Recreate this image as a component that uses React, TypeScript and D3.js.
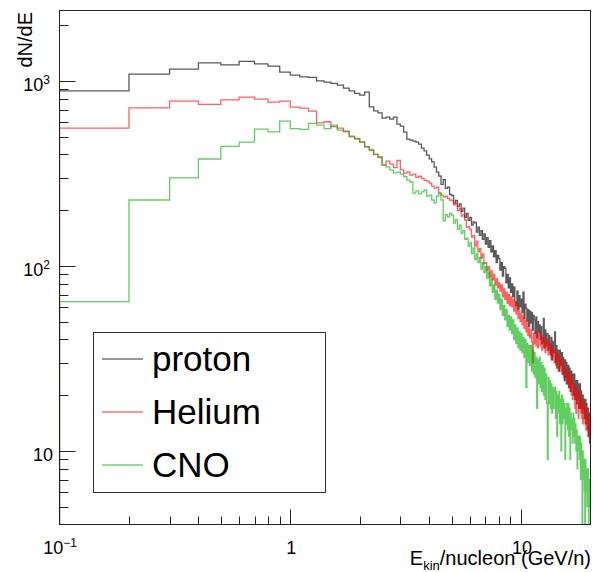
import { useRef, useEffect } from 'react'
import * as d3 from 'd3'

// bins: width 0.1 GeV/n, first visible bin starts at 0.1
const binStart = 0.1
const binWidth = 0.1

const proton = [
  883, 1087, 1157, 1251, 1220, 1273, 1235, 1200, 1114,
  1073, 1051, 1043, 1000, 984, 968, 948, 913, 883, 855,
  837, 869, 724, 689, 672, 629, 637, 621, 637, 584,
  569, 528, 484, 478, 472, 466, 455, 433, 418, 397,
  379, 365, 342, 321, 306, 276, 292, 262, 266, 243,
  240, 219, 226, 209, 216, 197, 205, 183, 192, 176,
  183, 166, 173, 171, 152, 162, 146, 155, 139, 149,
  131, 142, 126, 137, 119, 128, 112, 121, 104, 114,
  109, 95, 104, 88, 99, 97, 81, 90, 76, 86,
  72, 80, 68, 77, 64, 61, 73, 58, 69, 60,
  66, 56, 72, 52, 62, 59, 50, 58, 47, 57,
  49, 56, 45, 54, 51, 43, 53, 41, 50, 44,
  48, 40, 47, 38, 39, 52, 36, 45, 37, 43,
  43, 35, 42, 38, 33, 41, 31, 39, 34, 37,
  44, 30, 37, 28, 35, 33, 27, 35, 29, 33,
  34, 26, 32, 29, 24, 31, 25, 30, 23, 29,
  29, 22, 28, 25, 21, 27, 23, 26, 20, 25,
  26, 19, 24, 22, 18, 24, 19, 23, 17, 22,
  23, 17, 21, 19, 16, 20, 17, 19, 15, 18,
  19, 14, 18, 16, 13, 17, 12, 16, 11, 14,
]

const helium = [
  555, 715, 777, 746, 790, 816, 796, 767, 777,
  721, 712, 686, 592, 601, 565, 555, 535, 503, 485,
  467, 440, 420, 400, 385, 350, 368, 355, 340, 371,
  330, 317, 322, 309, 313, 301, 305, 297, 290, 287,
  280, 270, 263, 266, 247, 241, 235, 238, 232, 227,
  226, 214, 218, 199, 204, 186, 190, 177, 161, 163,
  157, 143, 146, 128, 136, 119, 124, 110, 116, 103,
  104, 94, 99, 87, 94, 84, 90, 79, 85, 76,
  81, 73, 79, 68, 75, 66, 72, 63, 70, 61,
  68, 60, 66, 57, 63, 55, 61, 52, 57, 50,
  55, 48, 53, 46, 51, 44, 49, 42, 46, 41,
  45, 39, 30, 43, 38, 44, 37, 42, 36, 43,
  44, 37, 42, 35, 41, 36, 40, 34, 39, 35,
  40, 33, 39, 34, 37, 31, 36, 32, 35, 30,
  35, 29, 34, 30, 33, 27, 32, 28, 31, 27,
  31, 26, 30, 25, 28, 24, 28, 23, 27, 23,
  27, 22, 26, 21, 25, 20, 24, 19, 23, 20,
  23, 17, 22, 16, 21, 18, 20, 15, 21, 17,
  20, 16, 19, 15, 18, 14, 19, 15, 17, 14,
  18, 13, 17, 14, 16, 12, 15, 12, 14, 13,
]

const cno = [
  64, 227, 299, 378, 442, 467, 548, 530, 606,
  552, 546, 589, 576, 552, 576, 542, 530, 498, 489,
  468, 441, 426, 400, 389, 350, 343, 329, 318, 321,
  313, 304, 291, 284, 247, 254, 245, 251, 257, 238,
  241, 227, 219, 238, 247, 227, 175, 189, 184, 193,
  188, 170, 178, 158, 166, 150, 155, 139, 141, 128,
  134, 117, 125, 108, 116, 104, 111, 96, 104, 92,
  99, 86, 92, 78, 85, 72, 79, 66, 74, 63,
  70, 58, 66, 54, 61, 51, 58, 47, 54, 45,
  53, 43, 51, 40, 48, 38, 46, 36, 44, 35,
  43, 34, 41, 32, 40, 22, 38, 30, 37, 29,
  37, 27, 35, 26, 34, 25, 32, 17, 31, 23,
  32, 22, 30, 21, 29, 20, 28, 19, 26, 18,
  9, 25, 18, 24, 17, 23, 16, 22, 17, 21,
  22, 15, 21, 12, 20, 16, 21, 14, 19, 10,
  20, 14, 19, 15, 18, 9, 17, 14, 18, 13,
  18, 12, 17, 9, 16, 13, 15, 11, 16, 12,
  15, 11, 14, 10, 13, 8, 12, 10, 12, 9,
  12, 7, 11, 8, 3, 10, 7, 9, 6, 3,
  9, 6, 8, 5, 7, 8, 2, 7, 5, 6,
]

const seriesNames = ['proton', 'Helium', 'CNO']
const seriesData = [proton, helium, cno]
const seriesColors = ['#000000', '#ff0000', '#00b000']

const xMajor = [1, 10]
const xMajorLabels = [['1', ''], ['10', '']]
const xFirstLabel = ['10', '\u22121']
const yMajor = [10, 100, 1000]
const yMajorLabels = [['10', ''], ['10', '2'], ['10', '3']]

const FONT = 'Liberation Sans, Arial, Helvetica, sans-serif'

const App = () => {
  const svgRef = useRef(null)

  useEffect(() => {
    const svg = d3.select(svgRef.current)
    svg.selectAll('*').remove()

    const L = 59.5, R = 590.5, T = 10.5, B = 524.5
    const x = d3.scaleLog().domain([0.1, 20]).range([L, R])
    const y = d3.scaleLog().domain([4, 2400]).range([B, T]).clamp(true)

    svg.append('rect').attr('width', 594).attr('height', 572).attr('fill', '#fff')

    svg.append('defs').append('clipPath').attr('id', 'plotclip')
      .append('rect').attr('x', L).attr('y', T).attr('width', R - L).attr('height', B - T)

    const plot = svg.append('g').attr('clip-path', 'url(#plotclip)')

    const line = d3.line<[number, number]>()
      .x(d => x(d[0]))
      .y(d => y(d[1]))
      .curve(d3.curveStepAfter)

    seriesData.forEach((vals, si) => {
      const pts: [number, number][] = vals.map((v, i) => [+(binStart + i * binWidth).toFixed(1), v])
      pts.push([+(binStart + vals.length * binWidth).toFixed(1), vals[vals.length - 1]])
      const d = `M${x(binStart)},${B + 2}L` + line(pts)!.slice(1)
      plot.append('path')
        .attr('d', d)
        .attr('fill', 'none')
        .attr('stroke', seriesColors[si])
        .attr('stroke-opacity', si === 0 ? 0.65 : 0.62)
        .attr('stroke-width', 1.3)
    })

    // frame
    svg.append('rect')
      .attr('x', L).attr('y', T).attr('width', R - L).attr('height', B - T)
      .attr('fill', 'none').attr('stroke', '#222').attr('stroke-width', 1)

    // y ticks
    const yMinor: number[] = []
    for (let e = 0; e < 4; e++) {
      for (let m = 2; m <= 9; m++) {
        const v = m * Math.pow(10, e)
        if (v > 4 && v < 2400) yMinor.push(v)
      }
    }
    yMinor.forEach(v => {
      const yy = Math.round(y(v)) + 0.5
      svg.append('line').attr('x1', L).attr('x2', L + 9).attr('y1', yy).attr('y2', yy)
        .attr('stroke', '#222').attr('stroke-width', 1)
    })
    yMajor.forEach((v, i) => {
      const yy = Math.round(y(v)) + 0.5
      svg.append('line').attr('x1', L).attr('x2', L + 16).attr('y1', yy).attr('y2', yy)
        .attr('stroke', '#222').attr('stroke-width', 1)
      const [base, sup] = yMajorLabels[i]
      const t = svg.append('text')
        .attr('x', sup ? 50 : 53).attr('y', yy + 9.5)
        .attr('text-anchor', 'end')
        .attr('font-family', FONT).attr('font-size', 18).attr('fill', '#000')
      t.append('tspan').text(base)
      if (sup) t.append('tspan').attr('dy', -7).attr('font-size', 12).text(sup)
    })

    // x ticks
    const xMinor: number[] = []
    for (let e = -1; e < 2; e++) {
      for (let m = 2; m <= 9; m++) {
        const v = m * Math.pow(10, e)
        if (v > 0.1 && v < 20) xMinor.push(v)
      }
    }
    xMinor.forEach(v => {
      const xx = Math.round(x(v)) + 0.5
      svg.append('line').attr('x1', xx).attr('x2', xx).attr('y1', B).attr('y2', B - 8)
        .attr('stroke', '#222').attr('stroke-width', 1)
    })
    xMajor.forEach(v => {
      const xx = Math.round(x(v)) + 0.5
      svg.append('line').attr('x1', xx).attr('x2', xx).attr('y1', B).attr('y2', B - 15)
        .attr('stroke', '#222').attr('stroke-width', 1)
    })
    const xLabelVals = [0.1, ...xMajor]
    const xLabelTexts = [xFirstLabel, ...xMajorLabels]
    xLabelVals.forEach((v, i) => {
      const [base, sup] = xLabelTexts[i]
      const t = svg.append('text')
        .attr('x', x(v) + (i === 0 ? 0.5 : 1)).attr('y', 554)
        .attr('text-anchor', 'middle')
        .attr('font-family', FONT).attr('font-size', 18).attr('fill', '#000')
      t.append('tspan').text(base)
      if (sup) t.append('tspan').attr('dy', -7).attr('font-size', 12).text(sup)
    })

    // axis titles
    svg.append('text')
      .attr('transform', 'translate(31.5,12) rotate(-90)')
      .attr('text-anchor', 'end')
      .attr('font-family', FONT).attr('font-size', 20).attr('fill', '#000')
      .text('dN/dE')

    const xt = svg.append('text')
      .attr('x', 591).attr('y', 565)
      .attr('text-anchor', 'end')
      .attr('font-family', FONT).attr('font-size', 20).attr('fill', '#000')
    xt.append('tspan').text('E')
    xt.append('tspan').attr('dy', 5).attr('font-size', 13).text('kin')
    xt.append('tspan').attr('dy', -5).text('/nucleon (GeV/n)')

    // legend
    const lg = svg.append('g')
    lg.append('rect')
      .attr('x', 93.5).attr('y', 332.5).attr('width', 232).attr('height', 160)
      .attr('fill', '#fff').attr('stroke', '#333').attr('stroke-width', 1)
    seriesNames.forEach((name, i) => {
      const base = 370.5 + i * 53
      lg.append('line')
        .attr('x1', 102).attr('x2', 143).attr('y1', base - 11.5).attr('y2', base - 11.5)
        .attr('stroke', seriesColors[i]).attr('stroke-opacity', 0.55).attr('stroke-width', 1.3)
      lg.append('text')
        .attr('x', 152).attr('y', base)
        .attr('font-family', FONT).attr('font-size', 35).attr('fill', '#000')
        .text(name)
    })
  }, [])

  return (
    <svg
      ref={svgRef}
      width={594}
      height={572}
      style={{ position: 'absolute', left: 0, top: 0 }}
    />
  )
}

export default App
